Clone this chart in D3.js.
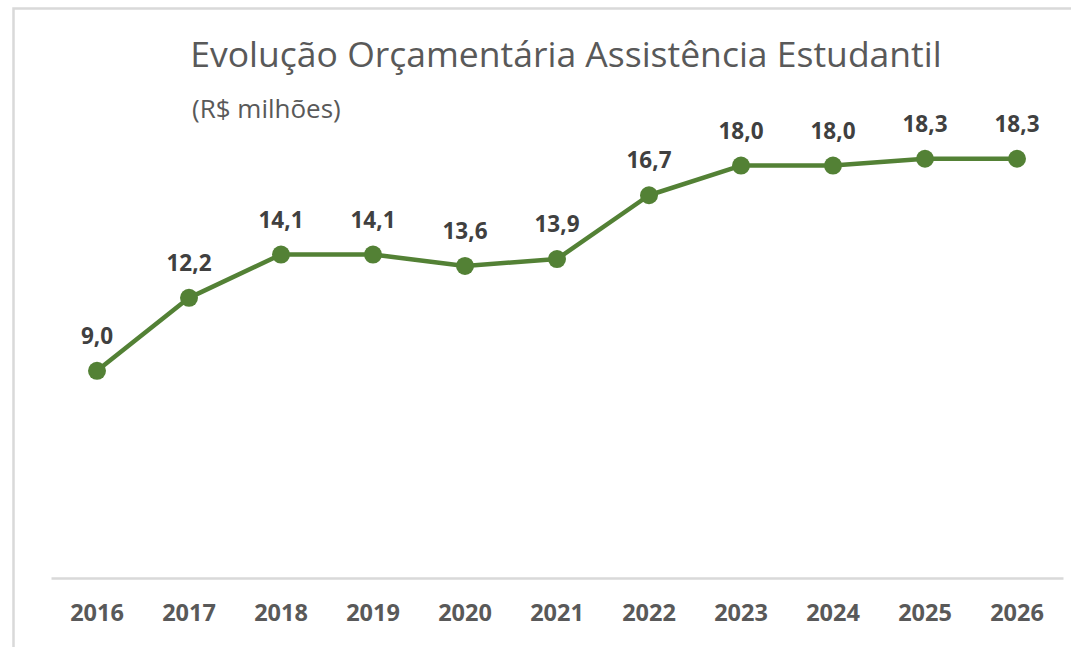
<!DOCTYPE html>
<html>
<head>
<meta charset="utf-8">
<script src="https://cdn.jsdelivr.net/npm/d3@7"></script>
<style>
  body { margin:0; background:#fff; }
  svg { display:block; }
</style>
</head>
<body>
<svg id="chart" width="1071" height="647"></svg>
<script>
// dados
var anos = ["2016","2017","2018","2019","2020","2021","2022","2023","2024","2025","2026"];
var valores = [9.0, 12.2, 14.1, 14.1, 13.6, 13.9, 16.7, 18.0, 18.0, 18.3, 18.3];
var titulo = "Evolução Orçamentária Assistência Estudantil";
var subtitulo = "(R$ milhões)";

var svg = d3.select("#chart");
var fontFam = "'Open Sans', 'Liberation Sans', sans-serif";

// moldura
svg.append("rect")
  .attr("x",13.5).attr("y",8.5)
  .attr("width",1100).attr("height",700)
  .attr("fill","#fff")
  .attr("stroke","#d9d9d9")
  .attr("stroke-width",2.5);

var x = d3.scaleBand().domain(anos).range([51,1063]);
var y = d3.scaleLinear().domain([0,20]).range([576,120]);

function cx(d){ return x(d) + x.bandwidth()/2; }

// eixo x
var xAxis = svg.append("g")
  .attr("transform","translate(0,578)")
  .call(d3.axisBottom(x).tickSize(0).tickPadding(0));
xAxis.select(".domain").attr("stroke","#d9d9d9").attr("stroke-width",2.5);
xAxis.selectAll("text")
  .attr("y",43)
  .attr("dy",0)
  .attr("fill","#595959")
  .style("font-family",fontFam)
  .style("font-weight","bold")
  .style("font-size","23.5px");

// titulo
svg.append("text")
  .attr("x",566).attr("y",67)
  .attr("text-anchor","middle")
  .attr("fill","#595959")
  .style("font-family",fontFam)
  .style("font-size","35.5px")
  .text(titulo);

svg.append("text")
  .attr("x",192).attr("y",118)
  .attr("fill","#595959")
  .style("font-family",fontFam)
  .style("font-size","26px")
  .text(subtitulo);

// linha
var line = d3.line()
  .x(function(d,i){ return cx(anos[i]); })
  .y(function(d){ return y(d); });

svg.append("path")
  .datum(valores)
  .attr("d",line)
  .attr("fill","none")
  .attr("stroke","#538135")
  .attr("stroke-width",4.5)
  .attr("stroke-linejoin","round");

svg.selectAll("circle.pt")
  .data(valores)
  .enter().append("circle")
  .attr("class","pt")
  .attr("cx",function(d,i){ return cx(anos[i]); })
  .attr("cy",function(d){ return y(d); })
  .attr("r",9)
  .attr("fill","#538135");

// rotulos
var fmt = function(v){ return v.toFixed(1).replace(".",","); };
svg.selectAll("text.lbl")
  .data(valores)
  .enter().append("text")
  .attr("class","lbl")
  .attr("x",function(d,i){ return cx(anos[i]); })
  .attr("y",function(d){ return y(d) - 27; })
  .attr("text-anchor","middle")
  .attr("fill","#404040")
  .style("font-family",fontFam)
  .style("font-weight","bold")
  .style("font-size","22.5px")
  .text(fmt);
</script>
</body>
</html>
